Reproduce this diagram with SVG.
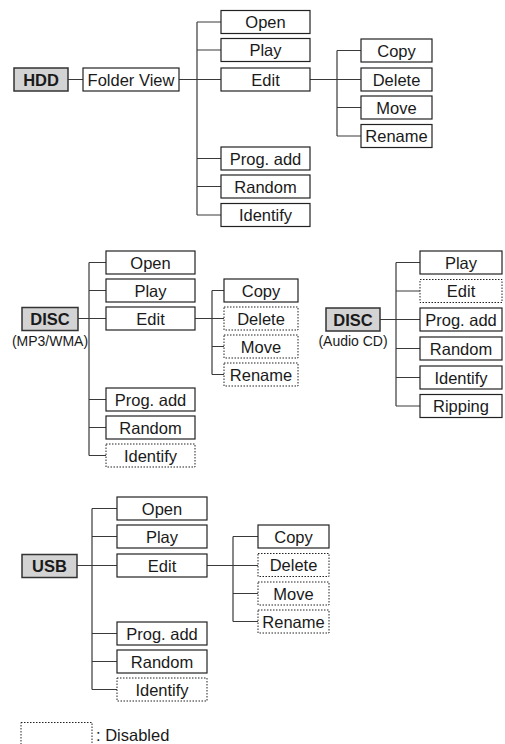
<svg xmlns="http://www.w3.org/2000/svg" width="505" height="744" viewBox="0 0 505 744">
<style>
.b{fill:#fff;stroke:#222;stroke-width:1.2}
.d{fill:#fff;stroke:#222;stroke-width:1;stroke-dasharray:1.5 1.5}
.g{fill:#d3d3d3;stroke:#333;stroke-width:1.5}
text{font-family:"Liberation Sans",Arial,sans-serif;font-size:16.5px;fill:#1a1a1a;text-anchor:middle}
.h{font-weight:bold}
.s{font-size:14px}
.c{fill:none;stroke:#3a3a3a;stroke-width:1.2}
</style>
<rect width="505" height="744" fill="#fff"/>
<g id="connectors" class="c">
<path d="M68 79.5H83M179 79.5H221M197 22H221M197 50H221M197 158.5H221M197 186.5H221M197 215H221M197 22V215"/>
<path d="M310 79.5H361M337 50.5H361M337 107.5H361M337 136H361M337 50.5V136"/>
<path d="M78 318.5H106M89 262.5H106M89 290.5H106M89 399.5H106M89 427.5H106M89 455.5H106M89 262.5V455.5"/>
<path d="M195 318.5H224M212 290.5H224M212 346.5H224M212 374.5H224M212 290.5V374.5"/>
<path d="M380 319.5H420M396 262.5H420M396 291H420M396 348.5H420M396 377.5H420M396 406H420M396 262.5V406"/>
<path d="M77 565.5H117M92 508.5H117M92 536.5H117M92 633.5H117M92 661.5H117M92 689.5H117M92 508.5V689.5"/>
<path d="M207 565.5H258M233 536.5H258M233 593.5H258M233 621.5H258M233 536.5V621.5"/>
</g>

<g id="hdd"><rect class="g" x="14" y="68" width="54" height="23"/><text class="h" x="41" y="85.5">HDD</text></g>
<g id="hdd-folder"><rect class="b" x="83" y="68" width="96" height="23"/><text x="131" y="85.5">Folder View</text></g>
<g id="hdd-open"><rect class="b" x="221" y="10.5" width="89" height="23"/><text x="265.5" y="28">Open</text></g>
<g id="hdd-play"><rect class="b" x="221" y="38.5" width="89" height="23"/><text x="265.5" y="56">Play</text></g>
<g id="hdd-edit"><rect class="b" x="221" y="68" width="89" height="23"/><text x="265.5" y="85.5">Edit</text></g>
<g id="hdd-progadd"><rect class="b" x="221" y="147" width="89" height="23"/><text x="265.5" y="164.5">Prog. add</text></g>
<g id="hdd-random"><rect class="b" x="221" y="175" width="89" height="23"/><text x="265.5" y="192.5">Random</text></g>
<g id="hdd-identify"><rect class="b" x="221" y="203.5" width="89" height="23"/><text x="265.5" y="221">Identify</text></g>
<g id="hdd-copy"><rect class="b" x="361" y="39" width="71" height="23"/><text x="396.5" y="56.5">Copy</text></g>
<g id="hdd-delete"><rect class="b" x="361" y="68" width="71" height="23"/><text x="396.5" y="85.5">Delete</text></g>
<g id="hdd-move"><rect class="b" x="361" y="96" width="71" height="23"/><text x="396.5" y="113.5">Move</text></g>
<g id="hdd-rename"><rect class="b" x="361" y="124.5" width="71" height="23"/><text x="396.5" y="142">Rename</text></g>

<g id="disc-mp3"><rect class="g" x="22" y="307.5" width="56" height="23"/><text class="h" x="50" y="325">DISC</text><text class="s" x="50" y="346">(MP3/WMA)</text></g>
<g id="mp3-open"><rect class="b" x="106" y="251" width="89" height="23"/><text x="150.5" y="268.5">Open</text></g>
<g id="mp3-play"><rect class="b" x="106" y="279" width="89" height="23"/><text x="150.5" y="296.5">Play</text></g>
<g id="mp3-edit"><rect class="b" x="106" y="307" width="89" height="23"/><text x="150.5" y="324.5">Edit</text></g>
<g id="mp3-progadd"><rect class="b" x="106" y="388" width="89" height="23"/><text x="150.5" y="405.5">Prog. add</text></g>
<g id="mp3-random"><rect class="b" x="106" y="416" width="89" height="23"/><text x="150.5" y="433.5">Random</text></g>
<g id="mp3-identify"><rect class="d" x="106" y="444" width="89" height="23"/><text x="150.5" y="461.5">Identify</text></g>
<g id="mp3-copy"><rect class="b" x="224" y="279" width="74" height="23"/><text x="261" y="296.5">Copy</text></g>
<g id="mp3-delete"><rect class="d" x="224" y="307" width="74" height="23"/><text x="261" y="324.5">Delete</text></g>
<g id="mp3-move"><rect class="d" x="224" y="335" width="74" height="23"/><text x="261" y="352.5">Move</text></g>
<g id="mp3-rename"><rect class="d" x="224" y="363" width="74" height="23"/><text x="261" y="380.5">Rename</text></g>

<g id="disc-cd"><rect class="g" x="326" y="308" width="54" height="23"/><text class="h" x="353" y="325.5">DISC</text><text class="s" x="353" y="346">(Audio CD)</text></g>
<g id="cd-play"><rect class="b" x="420" y="251" width="82" height="23"/><text x="461" y="268.5">Play</text></g>
<g id="cd-edit"><rect class="d" x="420" y="279.5" width="82" height="23"/><text x="461" y="297">Edit</text></g>
<g id="cd-progadd"><rect class="b" x="420" y="308" width="82" height="23"/><text x="461" y="325.5">Prog. add</text></g>
<g id="cd-random"><rect class="b" x="420" y="337" width="82" height="23"/><text x="461" y="354.5">Random</text></g>
<g id="cd-identify"><rect class="b" x="420" y="366" width="82" height="23"/><text x="461" y="383.5">Identify</text></g>
<g id="cd-ripping"><rect class="b" x="420" y="394.5" width="82" height="23"/><text x="461" y="412">Ripping</text></g>

<g id="usb"><rect class="g" x="22" y="554.5" width="55" height="23"/><text class="h" x="49.5" y="572">USB</text></g>
<g id="usb-open"><rect class="b" x="117" y="497" width="90" height="23"/><text x="162" y="514.5">Open</text></g>
<g id="usb-play"><rect class="b" x="117" y="525" width="90" height="23"/><text x="162" y="542.5">Play</text></g>
<g id="usb-edit"><rect class="b" x="117" y="554" width="90" height="23"/><text x="162" y="571.5">Edit</text></g>
<g id="usb-progadd"><rect class="b" x="117" y="622" width="90" height="23"/><text x="162" y="639.5">Prog. add</text></g>
<g id="usb-random"><rect class="b" x="117" y="650" width="90" height="23"/><text x="162" y="667.5">Random</text></g>
<g id="usb-identify"><rect class="d" x="117" y="678" width="90" height="23"/><text x="162" y="695.5">Identify</text></g>
<g id="usb-copy"><rect class="b" x="258" y="525" width="71" height="23"/><text x="293.5" y="542.5">Copy</text></g>
<g id="usb-delete"><rect class="d" x="258" y="553.5" width="71" height="23"/><text x="293.5" y="571">Delete</text></g>
<g id="usb-move"><rect class="d" x="258" y="582" width="71" height="23"/><text x="293.5" y="599.5">Move</text></g>
<g id="usb-rename"><rect class="d" x="258" y="610" width="71" height="23"/><text x="293.5" y="627.5">Rename</text></g>

<g id="legend"><rect class="d" x="21" y="722.5" width="71" height="30"/><text x="96" y="741" style="text-anchor:start">: Disabled</text></g>
</svg>
